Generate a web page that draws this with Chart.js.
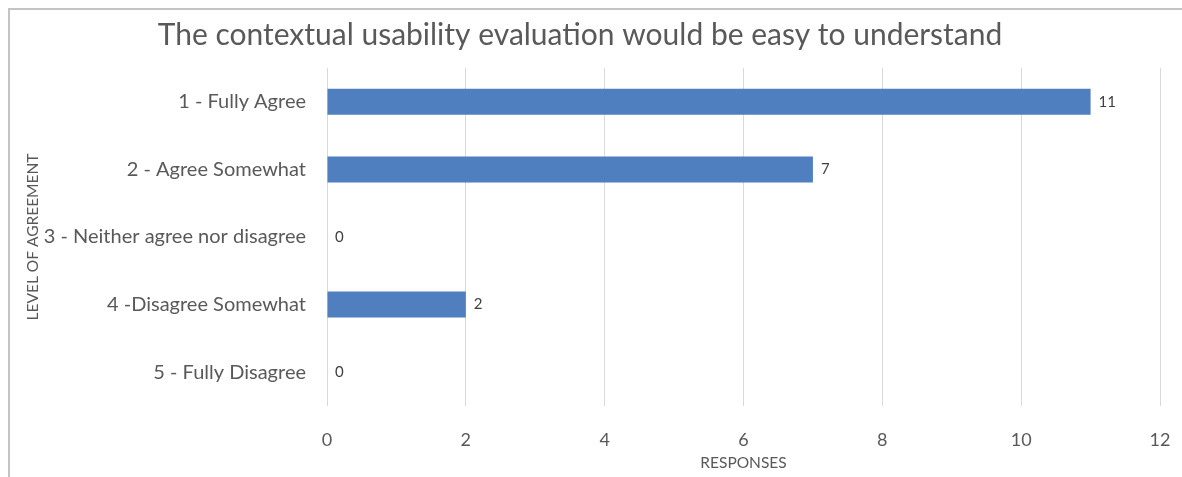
<!DOCTYPE html>
<html>
<head>
<meta charset="utf-8">
<script src="https://cdn.jsdelivr.net/npm/chart.js@4.4.1/dist/chart.umd.min.js"></script>
<style>
  html, body { margin: 0; padding: 0; background: #ffffff; }
  #wrap { width: 1182px; height: 477px; position: relative; }
</style>
</head>
<body>
<div id="wrap"><canvas id="chart" width="1182" height="477"></canvas></div>
<script>
// Survey answers for the statement in the chart title
const categories = [
  '1 - Fully Agree',
  '2 - Agree Somewhat',
  '3 - Neither agree nor disagree',
  '4 -Disagree Somewhat',
  '5 - Fully Disagree'
];
const responses = [11, 7, 0, 2, 0];
const xTicks = [0, 2, 4, 6, 8, 10, 12];

const FONT = 'Lato, "Open Sans", sans-serif';
const TEXT = '#595959';

// Light frame around the chart
const framePlugin = {
  id: 'frame',
  beforeDraw(chart) {
    const ctx = chart.ctx;
    ctx.save();
    ctx.fillStyle = '#ffffff';
    ctx.fillRect(0, 0, chart.width, chart.height);
    ctx.strokeStyle = '#c4c4c4';
    ctx.lineWidth = 2;
    ctx.strokeRect(9, 9, chart.width + 20, chart.height + 20);
    ctx.restore();
  }
};

// Value labels at the end of each bar
const valueLabels = {
  id: 'valueLabels',
  afterDatasetsDraw(chart) {
    const ctx = chart.ctx;
    const meta = chart.getDatasetMeta(0);
    ctx.save();
    ctx.font = '15px ' + FONT;
    ctx.fillStyle = '#404040';
    ctx.textAlign = 'left';
    ctx.textBaseline = 'middle';
    meta.data.forEach((bar, i) => {
      ctx.fillText(String(responses[i]), bar.x + 8, bar.y);
    });
    ctx.restore();
  }
};

new Chart(document.getElementById('chart'), {
  type: 'bar',
  data: {
    labels: categories,
    datasets: [{
      data: responses,
      backgroundColor: '#4f7fbe',
      borderWidth: 0,
      barPercentage: 0.385,
      categoryPercentage: 1
    }]
  },
  options: {
    indexAxis: 'y',
    responsive: false,
    animation: false,
    devicePixelRatio: 1,
    layout: { padding: { left: 0, right: 22, top: 0, bottom: 0 } },
    plugins: {
      legend: { display: false },
      tooltip: { enabled: false },
      title: {
        display: true,
        text: 'The contextual usability evaluation would be easy to understand',
        color: TEXT,
        font: { family: FONT, size: 30, weight: 'normal', lineHeight: 1.2 },
        padding: { top: 17, bottom: 15 }
      }
    },
    scales: {
      x: {
        min: 0,
        max: 12,
        afterBuildTicks(scale) { scale.ticks = xTicks.map(v => ({ value: v })); },
        afterFit(scale) {
          scale.height = 71;
          scale.paddingLeft = 0;
          scale.paddingRight = 0;
        },
        grid: { color: '#d9d9d9', lineWidth: 1, drawTicks: false },
        border: { display: false },
        ticks: {
          color: TEXT,
          padding: 23,
          font: { family: FONT, size: 18 }
        },
        title: {
          display: true,
          text: 'RESPONSES',
          color: TEXT,
          font: { family: FONT, size: 15.5 },
          padding: { top: 0, bottom: 5 }
        }
      },
      y: {
        afterFit(scale) { scale.width = 327; },
        grid: { display: false, drawTicks: false },
        border: { display: false },
        ticks: {
          color: TEXT,
          padding: 21,
          font: { family: FONT, size: 20 }
        },
        title: {
          display: true,
          text: 'LEVEL OF AGREEMENT',
          color: TEXT,
          font: { family: FONT, size: 15.5 },
          padding: { top: 24, bottom: 0 }
        }
      }
    }
  },
  plugins: [framePlugin, valueLabels]
});
</script>
</body>
</html>
